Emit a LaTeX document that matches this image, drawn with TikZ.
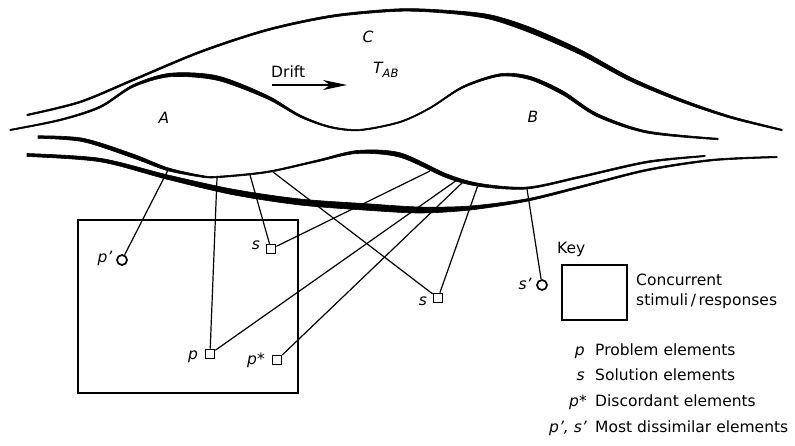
\documentclass[tikz,border=0pt]{standalone}
\usepackage{fontspec}
\setmainfont{DejaVu Sans}
\usetikzlibrary{arrows.meta}
\begin{document}
\begin{tikzpicture}[x=1pt,y=-1pt,
  txt/.style={inner sep=0pt,font=\fontsize{15.5}{18}\selectfont},
  itl/.style={inner sep=0pt,font=\fontsize{15.5}{18}\selectfont\itshape},
  sq/.style={draw,line width=1.7pt,minimum size=9pt,inner sep=0pt},
  ci/.style={draw,line width=1.7pt,circle,minimum size=10pt,inner sep=0pt},
  conn/.style={line width=1.2pt},
  band/.style={line width=0.6pt,line join=round},
  frame/.style={line width=2.6pt}]
\useasboundingbox (0,0) rectangle (795,445);
\fill[white] (0,0) rectangle (795,445);
% curve 1 (outer top of C)
\filldraw[band] plot[smooth] coordinates {(27,115-.75) (80,102-.9) (133,80-1) (200,52-1) (267,30-1) (333,16-1.1) (400,10-1.25) (450,12-1.5) (490,17-2.25) (530,30-2.75) (580,52-2.5) (630,79-2) (680,100-1.5) (730,117-1.1) (782,130-.75)}
  -- plot[smooth] coordinates {(782,130+.75) (730,117+1.1) (680,100+1.5) (630,79+2) (580,52+2.5) (530,30+2.75) (490,17+2.25) (450,12+1.5) (400,10+1.25) (333,16+1.1) (267,30+1) (200,52+1) (133,80+1) (80,102+.9) (27,115+.75)} -- cycle;
% curve 2 (top of A and B)
\filldraw[band] plot[smooth] coordinates {(10,130-.65) (60,120-.8) (100,107-1) (133,86-1.25) (170,75-1.75) (217,78-2.25) (267,97-1.75) (300,116-1.1) (330,127-.8) (360,130-.7) (400,122-.7) (430,108-.75) (463,87-1) (500,75-1.25) (530,78-1.75) (563,93-2) (597,115-1.6) (647,132-1.1) (718,139-.75)}
  -- plot[smooth] coordinates {(718,139+.75) (647,132+1.1) (597,115+1.6) (563,93+2) (530,78+1.75) (500,75+1.25) (463,87+1) (430,108+.75) (400,122+.7) (360,130+.7) (330,127+.8) (300,116+1.1) (267,97+1.75) (217,78+2.25) (170,75+1.75) (133,86+1.25) (100,107+1) (60,120+.8) (10,130+.65)} -- cycle;
% curve 3 (bottom of A and B)
\filldraw[band] plot[smooth] coordinates {(38,137-1.25) (83,140-1.75) (133,156-2) (167,169-1.5) (200,176-.9) (217,177-.75) (267,172-.75) (317,161-.9) (357,152-1.5) (400,155-2.25) (447,176-2) (480,185-1.5) (527,188-1) (580,177-.9) (647,162-.9) (705,156-.65)}
  -- plot[smooth] coordinates {(705,156+.65) (647,162+.9) (580,177+.9) (527,188+1) (480,185+1.5) (447,176+2) (400,155+2.25) (357,152+1.5) (317,161+.9) (267,172+.75) (217,177+.75) (200,176+.9) (167,169+1.5) (133,156+2) (83,140+1.75) (38,137+1.25)} -- cycle;
% curve 4 (lowest)
\filldraw[band] plot[smooth] coordinates {(27,155-1.5) (100,160-1.75) (167,177-2.25) (233,192-2.75) (300,202-3) (367,207-3.25) (420,210-3) (470,208-2) (527,200-1.25) (580,187-1) (647,170-.9) (713,160-.8) (777,157-.7)}
  -- plot[smooth] coordinates {(777,157+.7) (713,160+.8) (647,170+.9) (580,187+1) (527,200+1.25) (470,208+2) (420,210+3) (367,207+3.25) (300,202+3) (233,192+2.75) (167,177+2.25) (100,160+1.75) (27,155+1.5)} -- cycle;
% labels in regions
\node[itl] (lC) at (368,37) {C};
\node[itl] (lA) at (164,118) {A};
\node[itl] (lB) at (533,117) {B};
\node[txt,anchor=base west] (drift) at (271,77) {Drift};
\node[itl,anchor=north west] (tab) at (373,62) {T\raisebox{-4pt}{\fontsize{11.5}{12}\selectfont AB}};
\coordinate (da) at (272,85);
\coordinate (db) at (347,85);
\draw[line width=1.4pt,-{Stealth[length=24pt,width=10pt,inset=7pt]}] (da) -- (db);
% concurrent box
\draw[frame] (78,220) rectangle (298,393);
% anchor points on curve 3
\coordinate (c1) at (168,170);
\coordinate (c2) at (217,178);
\coordinate (c3) at (250,175);
\coordinate (c4) at (273,172);
\coordinate (c5) at (430,171);
\coordinate (c6) at (457,180);
\coordinate (c7) at (463,182);
\coordinate (c8) at (478,185);
\coordinate (c9) at (527,189);
% elements
\node[ci,fill=white] (pp) at (122,260) {};
\node[sq,fill=white] (s1) at (271,249) {};
\node[sq,fill=white] (p) at (210,354) {};
\node[sq,fill=white] (ps) at (277,360) {};
\node[sq,fill=white] (s2) at (438,298) {};
\node[ci,fill=white] (sp) at (542,285) {};
\node[itl] (lpp) at (105,258) {p'};
\node[itl] (ls1) at (256,245) {s};
\node[itl] (lp) at (193,357) {p};
\node[itl] (lps) at (256,360) {p*};
\node[itl] (ls2) at (423,301) {s};
\node[itl] (lsp) at (525,284) {s'};
% connectors
\draw[conn] (pp) -- (c1);
\draw[conn] (p) -- (c2);
\draw[conn] (s1) -- (c3);
\draw[conn] (s1) -- (c5);
\draw[conn] (s2) -- (c4);
\draw[conn] (s2) -- (c8);
\draw[conn] (p) -- (c6);
\draw[conn] (ps) -- (c7);
\draw[conn] (sp) -- (c9);
% key
\node[txt,anchor=base west] (key) at (557,253) {Key};
\draw[frame] (562,265) rectangle (627,320);
\node[txt,anchor=base west] (kc) at (636,285) {Concurrent};
\node[txt,anchor=base west] (ks) at (636,305) {stimuli\,/\,responses};
\node[itl,anchor=base east] (k1s) at (585,355) {p};
\node[txt,anchor=base west] (k1) at (595,355) {Problem elements};
\node[itl,anchor=base east] (k2s) at (585,380) {s};
\node[txt,anchor=base west] (k2) at (595,380) {Solution elements};
\node[itl,anchor=base east] (k3s) at (587,406) {p*};
\node[txt,anchor=base west] (k3) at (595,406) {Discordant elements};
\node[itl,anchor=base east] (k4s) at (587,432) {p', s'};
\node[txt,anchor=base west] (k4) at (595,432) {Most dissimilar elements};
\end{tikzpicture}
\end{document}
